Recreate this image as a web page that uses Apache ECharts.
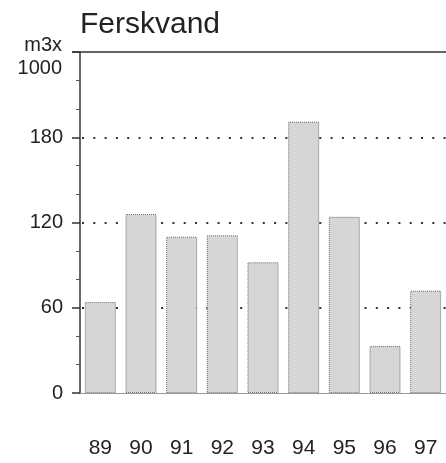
<!DOCTYPE html>
<html>
<head>
<meta charset="utf-8">
<script src="https://cdn.jsdelivr.net/npm/echarts@6/dist/echarts.min.js"></script>
<style>
  html, body { margin: 0; padding: 0; background: #fff; }
  #chart { width: 446px; height: 463px; }
</style>
</head>
<body>
<div id="chart"></div>
<script>
// Ferskvand (fresh water), thousands of m3 per year
const years = ['89', '90', '91', '92', '93', '94', '95', '96', '97'];
const volumes = [64, 126, 110, 111, 92, 191, 124, 33, 72];
const yTicks = [0, 60, 120, 180];

const FONT = '"Liberation Sans", Arial, Helvetica, sans-serif';
const INK = '#222';

const chart = echarts.init(document.getElementById('chart'), null, { renderer: 'canvas' });

chart.setOption({
  animation: false,
  backgroundColor: '#fff',
  title: {
    text: 'Ferskvand',
    left: 80,
    top: 10,
    padding: 0,
    textStyle: { fontFamily: FONT, fontSize: 30, fontWeight: 'normal', color: INK }
  },
  grid: { left: 80, right: -2, top: 52, bottom: 70 },
  xAxis: {
    type: 'category',
    data: years,
    axisLine: { show: true, lineStyle: { color: '#999', width: 1 } },
    axisTick: { show: false },
    axisLabel: { margin: 45, fontFamily: FONT, fontSize: 21, color: INK }
  },
  yAxis: {
    type: 'value',
    min: 0,
    max: 240,
    interval: 60,
    name: 'm3x\n1000',
    nameLocation: 'end',
    nameGap: -5,
    nameTextStyle: {
      fontFamily: FONT, fontSize: 20, color: INK,
      align: 'right', verticalAlign: 'middle', lineHeight: 23,
      padding: [0, 18, 0, 0]
    },
    axisLine: { show: true, lineStyle: { color: '#333', width: 1.5 } },
    axisTick: { show: true, inside: false, length: 8, lineStyle: { color: '#333', width: 1.5 } },
    minorTick: { show: true, splitNumber: 3, length: 4, lineStyle: { color: '#555', width: 1 } },
    axisLabel: {
      margin: 17,
      fontFamily: FONT, fontSize: 20, color: INK,
      formatter: v => (yTicks.indexOf(v) >= 0 ? String(v) : '')
    },
    splitLine: {
      show: true,
      showMinLine: false,
      showMaxLine: false,
      lineStyle: { color: '#333', width: 2, type: [2, 9.3], dashOffset: -2 }
    }
  },
  graphic: [
    // frame line across the top of the plot
    {
      type: 'line',
      shape: { x1: 72, y1: 52, x2: 446, y2: 52 },
      style: { stroke: '#333', lineWidth: 1.5 },
      z: 10
    }
  ],
  series: [{
    type: 'bar',
    data: volumes,
    barWidth: 31,
    itemStyle: {
      color: '#d6d6d6',
      borderColor: '#6a6a6a',
      borderWidth: 1,
      borderType: 'dotted'
    }
  }]
});
</script>
</body>
</html>
